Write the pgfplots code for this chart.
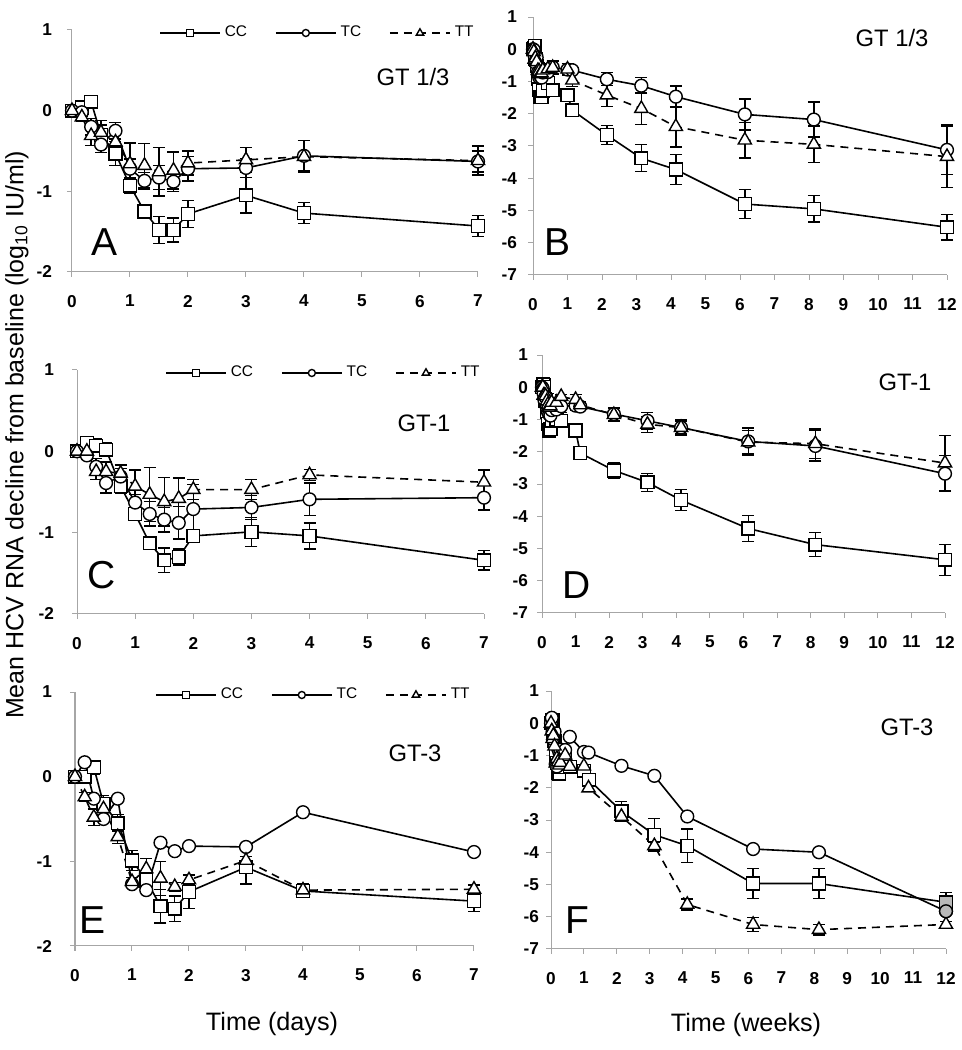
\documentclass[border=0pt]{standalone}
\usepackage{fontspec}
\setmainfont{Liberation Sans}
\usepackage{pgfplots}
\pgfplotsset{compat=1.18}

\pgfplotsset{
  panel/.style={
    scale only axis, clip=false,
    axis lines=left, axis line style={-, draw=gray!70, line width=0.5pt},
    tick align=outside, major tick length=2.5pt,
    tick style={draw=gray!70, line width=0.5pt},
    ticklabel style={font=\fontsize{8.6}{10}\selectfont\bfseries},
    /pgf/number format/assume math mode=true,
    xticklabel style={yshift=-5.5pt},
    legend image code/.code={\draw[mark repeat=2, mark phase=2, ##1, every mark/.append style={scale=0.55}]
      plot coordinates {(0pt,0pt) (15pt,0pt) (30pt,0pt)};},
  },
  days/.style={panel, xmin=0, xmax=7, ymin=-2, ymax=1, xtick={0,...,7}, ytick={-2,...,1}},
  weeks/.style={panel, xmin=0, xmax=12, ymin=-7, ymax=1, xtick={0,...,12}, ytick={-7,...,1}},
  leg/.style={legend columns=3,
    legend style={draw=none, fill=none, at={(1,1)}, anchor=east, yshift=-1.5pt,
      font=\fontsize{7.7}{9}\selectfont, inner sep=0pt,
      /tikz/every even column/.append style={column sep=12pt}}},
  cc/.style={black, line width=0.8pt, mark=square*, mark size=3.2pt,
    mark options={solid, fill=white, line width=0.7pt}},
  tc/.style={black, line width=0.8pt, mark=*, mark size=3.2pt,
    mark options={solid, fill=white, line width=0.7pt}},
  tt/.style={black, line width=0.8pt, dash pattern=on 4pt off 3pt, mark=triangle*, mark size=3.8pt,
    mark options={solid, fill=white, line width=0.7pt}},
  eb/.style={error bars/y dir=both, error bars/y explicit,
    error bars/error mark options={rotate=90, black, solid, mark size=3pt, line width=0.7pt},
    error bars/error bar style={black, solid, line width=0.7pt}},
}

\begin{document}
\begin{tikzpicture}
\path[use as bounding box] (0,0) rectangle (481pt,525pt);

% ---------- A ----------
\begin{axis}[days, leg, at={(36pt,389pt)}, anchor=south west, width=203pt, height=121pt,
  yticklabel style={xshift=-4pt}]
\addplot[cc, eb] table[x index=0, y index=1, y error index=2] {
0 0 0.03
0.17 0.04 0.05
0.33 0.11 0.07
0.5 -0.3 0.12
0.75 -0.53 0.15
1 -0.93 0.1
1.25 -1.25 0.08
1.5 -1.48 0.17
1.75 -1.48 0.15
2 -1.28 0.17
3 -1.05 0.22
4 -1.27 0.13
7 -1.43 0.13
};
\addlegendentry{CC}
\addplot[tc, eb] table[x index=0, y index=1, y error index=2] {
0 0 0.03
0.17 -0.02 0.05
0.33 -0.2 0.1
0.5 -0.42 0.1
0.75 -0.25 0.1
1 -0.72 0.12
1.25 -0.87 0.1
1.5 -0.83 0.15
1.75 -0.88 0.12
2 -0.72 0.15
3 -0.71 0.12
4 -0.56 0.19
7 -0.63 0.13
};
\addlegendentry{TC}
\addplot[tt, eb] table[x index=0, y index=1, y error index=2] {
0 0 0.03
0.17 -0.08 0.05
0.33 -0.31 0.12
0.5 -0.27 0.15
0.75 -0.39 0.12
1 -0.66 0.26
1.25 -0.68 0.27
1.5 -0.76 0.3
1.75 -0.74 0.23
2 -0.65 0.15
3 -0.61 0.15
4 -0.57 0.2
7 -0.62 0.18
};
\addlegendentry{TT}
\end{axis}

% ---------- B ----------
\begin{axis}[weeks, at={(266.5pt,387.5pt)}, anchor=south west, width=207pt, height=129pt,
  yticklabel style={xshift=-2pt}]
\addplot[cc, eb] table[x index=0, y index=1, y error index=2] {
0 0 0.03
0.024 0.04 0.05
0.048 0.11 0.07
0.071 -0.3 0.12
0.107 -0.53 0.15
0.143 -0.93 0.1
0.179 -1.25 0.08
0.214 -1.48 0.17
0.25 -1.48 0.15
0.286 -1.28 0.17
0.429 -1.05 0.22
0.571 -1.27 0.13
1 -1.43 0.13
1.14 -1.89 0.08
2.14 -2.66 0.3
3.14 -3.38 0.42
4.14 -3.73 0.47
6.14 -4.8 0.45
8.14 -4.95 0.41
12 -5.52 0.39
};
\addplot[tc, eb] table[x index=0, y index=1, y error index=2] {
0 0 0.03
0.024 -0.02 0.05
0.048 -0.2 0.1
0.071 -0.42 0.1
0.107 -0.25 0.1
0.143 -0.72 0.12
0.179 -0.87 0.1
0.214 -0.83 0.15
0.25 -0.88 0.12
0.286 -0.72 0.15
0.429 -0.71 0.12
0.571 -0.56 0.19
1 -0.63 0.13
1.14 -0.65 0.1
2.14 -0.93 0.2
3.14 -1.13 0.25
4.14 -1.47 0.33
6.14 -2.02 0.48
8.14 -2.18 0.54
12 -3.12 0.77
};
\addplot[tt, eb] table[x index=0, y index=1, y error index=2] {
0 0 0.03
0.024 -0.08 0.05
0.048 -0.31 0.12
0.071 -0.27 0.15
0.107 -0.39 0.12
0.143 -0.66 0.26
0.179 -0.68 0.27
0.214 -0.76 0.3
0.25 -0.74 0.23
0.286 -0.65 0.15
0.429 -0.61 0.15
0.571 -0.57 0.2
1 -0.62 0.18
1.14 -0.96 0.2
2.14 -1.42 0.35
3.14 -1.84 0.5
4.14 -2.4 0.63
6.14 -2.82 0.55
8.14 -2.95 0.57
12 -3.33 0.95
};
\end{axis}

% ---------- C ----------
\begin{axis}[days, leg, at={(38.5pt,218pt)}, anchor=south west, width=203.5pt, height=122pt,
  yticklabel style={xshift=-5.5pt}]
\addplot[cc, eb] table[x index=0, y index=1, y error index=2] {
0 0 0.03
0.17 0.1 0.06
0.33 0.07 0.08
0.5 0.02 0.08
0.75 -0.43 0.08
1 -0.77 0.07
1.25 -1.13 0.06
1.5 -1.34 0.15
1.75 -1.3 0.1
2 -1.04 0.05
3 -0.99 0.18
4 -1.04 0.16
7 -1.34 0.12
};
\addlegendentry{CC}
\addplot[tc, eb] table[x index=0, y index=1, y error index=2] {
0 0 0.03
0.17 -0.05 0.05
0.33 -0.19 0.1
0.5 -0.39 0.12
0.75 -0.31 0.1
1 -0.63 0.1
1.25 -0.77 0.15
1.5 -0.84 0.15
1.75 -0.88 0.2
2 -0.71 0.3
3 -0.69 0.15
4 -0.59 0.2
7 -0.57 0.15
};
\addlegendentry{TC}
\addplot[tt, eb] table[x index=0, y index=1, y error index=2] {
0 0 0.03
0.17 0 0.05
0.33 -0.25 0.1
0.5 -0.25 0.12
0.75 -0.27 0.1
1 -0.43 0.2
1.25 -0.53 0.33
1.5 -0.62 0.3
1.75 -0.58 0.25
2 -0.47 0.12
3 -0.47 0.12
4 -0.29 0.07
7 -0.38 0.15
};
\addlegendentry{TT}
\end{axis}

% ---------- D ----------
\begin{axis}[weeks, at={(271pt,218.5pt)}, anchor=south west, width=201.5pt, height=129pt,
  yticklabel style={xshift=-1pt}]
\addplot[cc, eb] table[x index=0, y index=1, y error index=2] {
0 0 0.03
0.024 0.1 0.06
0.048 0.07 0.08
0.071 0.02 0.08
0.107 -0.43 0.08
0.143 -0.77 0.07
0.179 -1.13 0.06
0.214 -1.34 0.15
0.25 -1.3 0.1
0.286 -1.04 0.05
0.429 -0.99 0.18
0.571 -1.04 0.16
1 -1.34 0.12
1.14 -2.04 0.06
2.14 -2.58 0.25
3.14 -2.95 0.28
4.14 -3.5 0.33
6.14 -4.38 0.4
8.14 -4.88 0.37
12 -5.35 0.48
};
\addplot[tc, eb] table[x index=0, y index=1, y error index=2] {
0 0 0.03
0.024 -0.05 0.05
0.048 -0.19 0.1
0.071 -0.39 0.12
0.107 -0.31 0.1
0.143 -0.63 0.1
0.179 -0.77 0.15
0.214 -0.84 0.15
0.25 -0.88 0.2
0.286 -0.71 0.3
0.429 -0.69 0.15
0.571 -0.59 0.2
1 -0.57 0.15
1.14 -0.6 0.08
2.14 -0.83 0.2
3.14 -1.04 0.25
4.14 -1.25 0.25
6.14 -1.68 0.42
8.14 -1.82 0.47
12 -2.68 0.56
};
\addplot[tt, eb] table[x index=0, y index=1, y error index=2] {
0 0 0.03
0.024 0 0.05
0.048 -0.25 0.1
0.071 -0.25 0.12
0.107 -0.27 0.1
0.143 -0.43 0.2
0.179 -0.53 0.33
0.214 -0.62 0.3
0.25 -0.58 0.25
0.286 -0.47 0.12
0.429 -0.47 0.12
0.571 -0.29 0.07
1 -0.38 0.15
1.14 -0.55 0.1
2.14 -0.85 0.2
3.14 -1.15 0.25
4.14 -1.25 0.2
6.14 -1.7 0.35
8.14 -1.75 0.45
12 -2.35 0.85
};
\end{axis}

% ---------- E ----------
\begin{axis}[days, leg, at={(37.5pt,52pt)}, anchor=south west, width=199.5pt, height=127pt,
  yticklabel style={xshift=-5.5pt}]
\addplot[cc, eb] table[x index=0, y index=1, y error index=2] {
0 0 0.03
0.17 0 0.05
0.33 0.11 0.08
0.5 -0.32 0.1
0.75 -0.55 0.1
1 -0.99 0.12
1.25 -1.22 0.1
1.5 -1.53 0.2
1.75 -1.56 0.15
2 -1.36 0.2
3 -1.07 0.2
4 -1.35 0.06
7 -1.47 0.12
};
\addlegendentry{CC}
\addplot[tc] table[x index=0, y index=1] {
0 0
0.17 0.17
0.33 -0.26
0.5 -0.5
0.75 -0.26
1 -1.27
1.25 -1.34
1.5 -0.78
1.75 -0.88
2 -0.82
3 -0.83
4 -0.42
7 -0.89
};
\addlegendentry{TC}
\addplot[tt, eb] table[x index=0, y index=1, y error index=2] {
0 0 0.03
0.17 -0.24 0.05
0.33 -0.48 0.1
0.5 -0.38 0.1
0.75 -0.71 0.08
1 -1.24 0.05
1.25 -1.09 0.12
1.5 -1.2 0.2
1.75 -1.3 0.05
2 -1.22 0.05
3 -0.99 0.05
4 -1.34 0.08
7 -1.33 0.05
};
\addlegendentry{TT}
\end{axis}

% ---------- F ----------
\begin{axis}[weeks, at={(275.5pt,50.5pt)}, anchor=south west, width=197.5pt, height=129pt,
  yticklabel style={xshift=0pt}]
\addplot[cc, eb] table[x index=0, y index=1, y error index=2] {
0 0 0.03
0.024 0 0.05
0.048 0.11 0.08
0.071 -0.32 0.1
0.107 -0.55 0.1
0.143 -0.99 0.12
0.179 -1.22 0.1
0.214 -1.53 0.2
0.25 -1.56 0.15
0.286 -1.36 0.2
0.429 -1.07 0.2
0.571 -1.35 0.06
1 -1.47 0.12
1.15 -1.75 0.15
2.14 -2.73 0.3
3.14 -3.46 0.5
4.14 -3.8 0.52
6.14 -4.97 0.47
8.14 -4.97 0.47
12 -5.55 0.3
};
\addplot[tc] table[x index=0, y index=1] {
0 0
0.024 0.17
0.048 -0.26
0.071 -0.5
0.107 -0.26
0.143 -1.27
0.179 -1.34
0.214 -0.78
0.25 -0.88
0.286 -0.82
0.429 -0.83
0.571 -0.42
1 -0.89
1.14 -0.91
2.14 -1.32
3.14 -1.63
4.14 -2.89
6.14 -3.9
8.14 -4.0
12 -5.83
};
\addplot[tt, eb] table[x index=0, y index=1, y error index=2] {
0 0 0.03
0.024 -0.24 0.05
0.048 -0.48 0.1
0.071 -0.38 0.1
0.107 -0.71 0.08
0.143 -1.24 0.05
0.179 -1.09 0.12
0.214 -1.2 0.2
0.25 -1.3 0.05
0.286 -1.22 0.05
0.429 -0.99 0.05
0.571 -1.34 0.08
1 -1.33 0.05
1.14 -2.01 0.08
2.14 -2.89 0.08
3.14 -3.8 0.1
4.14 -5.62 0.17
6.14 -6.24 0.22
8.14 -6.4 0.16
12 -6.24 0.1
};
\addplot[only marks, mark=square*, mark size=3.2pt, mark options={fill=gray!55, draw=black, line width=0.7pt}]
  coordinates {(12,-5.55)};
\addplot[only marks, mark=*, mark size=3.2pt, mark options={fill=gray!55, draw=black, line width=0.7pt}]
  coordinates {(12,-5.83)};
\end{axis}

% ---------- texts ----------
\begin{scope}[every node/.style={font=\fontsize{11.9}{14}\selectfont}]
\node at (206.5pt,486.5pt) {GT 1/3};
\node at (446pt,506pt) {GT 1/3};
\node at (212pt,313.5pt) {GT-1};
\node at (452.5pt,334pt) {GT-1};
\node at (207.5pt,148.5pt) {GT-3};
\node at (453.5pt,161.5pt) {GT-3};
\end{scope}
\begin{scope}[every node/.style={font=\fontsize{19.5}{22}\selectfont}]
\node at (52.5pt,404pt) {A};
\node at (279pt,404pt) {B};
\node at (51pt,237.5pt) {C};
\node at (288.5pt,232.5pt) {D};
\node at (46.5pt,65pt) {E};
\node at (288.5pt,65pt) {F};
\end{scope}
\node[rotate=90, font=\fontsize{12.5}{15}\selectfont] at (8.5pt,307.5pt)
  {Mean HCV RNA decline from baseline (log\textsubscript{10} IU/ml)};
\node[font=\fontsize{12.6}{15}\selectfont] at (136pt,13pt) {Time (days)};
\node[font=\fontsize{12.6}{15}\selectfont] at (373pt,12.5pt) {Time (weeks)};
\end{tikzpicture}
\end{document}
